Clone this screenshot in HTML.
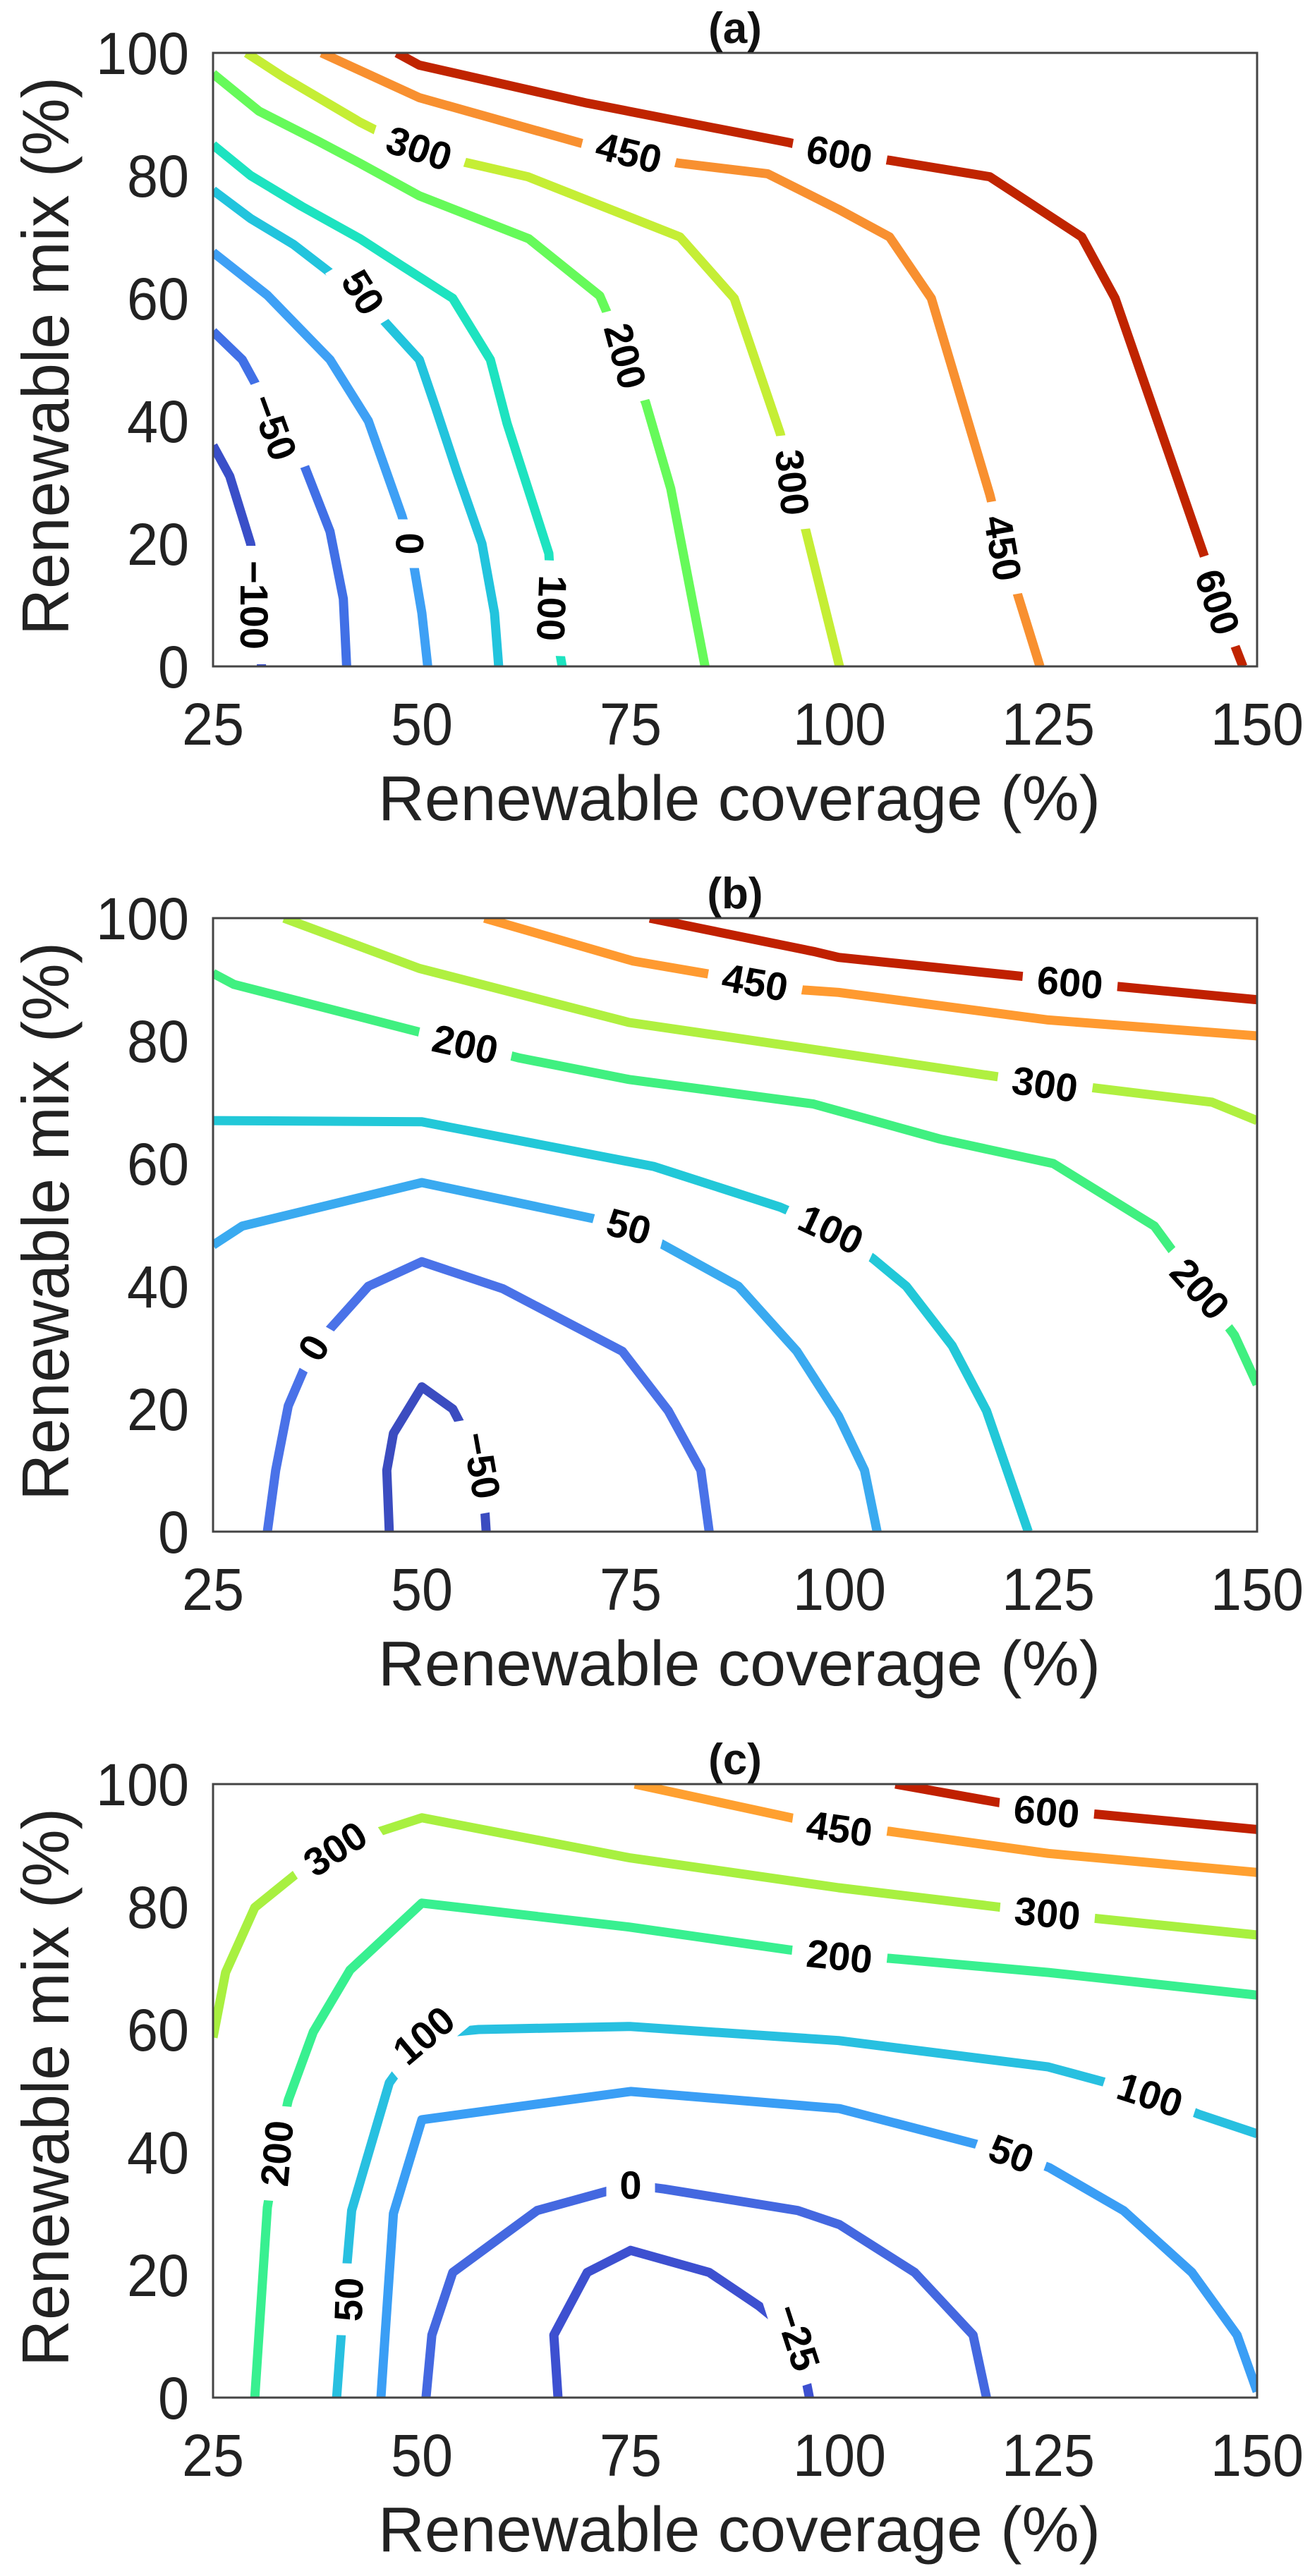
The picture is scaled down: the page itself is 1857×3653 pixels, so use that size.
<!DOCTYPE html>
<html><head><meta charset="utf-8">
<style>
html,body{margin:0;padding:0;background:#fff;}
svg{display:block;}
</style></head>
<body>
<svg id="chart" width="1857" height="3653" viewBox="0 0 1857 3653" xmlns="http://www.w3.org/2000/svg"></svg>
<script>
// ---------- data (coverage %, mix %) ----------
const xTicks = [25, 50, 75, 100, 125, 150];
const yTicks = [0, 20, 40, 60, 80, 100];
const panelTitles = ["(a)", "(b)", "(c)"];

// panel (a)
const levelsA = ["−100", "−50", "0", "50", "100", "200", "300", "450", "600"];
const colorsA = ["#3a4fc8", "#4170e6", "#3ea0f5", "#22c4dd", "#1de3c0", "#66fa5a", "#c5ee35", "#f89030", "#c02400"];
const linesA = [
  [[25,36],[27,31],[29.5,20],[30.5,10],[30.8,0]],
  [[25,54.6],[28.5,50],[30.5,45],[32.5,40],[36,32.5],[39,22],[40.6,11],[41,0]],
  [[25,67.5],[31.5,60.5],[39,50],[43.6,40],[47.6,24.6],[48.6,20],[50,8.7],[50.7,0]],
  [[25,77.6],[29.5,73],[34.6,68.8],[43,60],[49.7,50],[51.7,42],[54.2,31.7],[57.2,20],[58.7,8.7],[59.2,0]],
  [[25,85],[29.5,80],[35.6,75],[42.6,69.7],[47.6,65.3],[53.7,60],[58.2,50],[60.2,39.6],[62.7,29],[65.2,18.4],[65.6,9.5],[66.8,0]],
  [[25,96.6],[30.5,90.5],[37.6,85.6],[42.6,82],[49.7,76.7],[62.8,69.7],[71.3,60.4],[74.4,50.6],[76.8,43],[79.8,29],[83.9,0]],
  [[29,100],[33.5,96],[42.6,88.7],[49.7,83.8],[55.7,82],[62.7,79.8],[80.9,70],[87.4,60],[92.9,38],[94.4,30],[96,22],[100,0]],
  [[38,100],[49.7,92.7],[69.8,85],[74.8,83.4],[80.9,82],[91.4,80.3],[99.9,74.5],[106,70],[111,60],[118,28],[119.6,19.3],[124,0]],
  [[47,100],[49.7,98],[69.8,91.8],[93.9,85.4],[100,83.4],[106,82.5],[118,79.8],[129,70],[133,60],[143.8,17.5],[145.3,10.5],[148.3,0]]
];
const labelsA = [[30,10,90],[32.3,39,70],[48.6,20,90],[43,61,58],[65.6,9.5,92],[74.4,50.6,75],[49.7,84.5,18],[94.4,30,84],[74.8,83.8,14],[119.6,19.3,80],[100,83.6,10],[145.3,10.5,72]];
const labelLevelsA = [0,1,2,3,4,5,6,6,7,7,8,8];

// panel (b)
const levelsB = ["−50", "0", "50", "100", "200", "300", "450", "600"];
const colorsB = ["#3b4cc0", "#4a72e8", "#3aaaf0", "#22c8d8", "#40f080", "#b0f040", "#ff9a30", "#c02000"];
const linesB = [
  [[46.1,0],[45.8,10],[46.6,16],[50,23.6],[53.7,20],[57.2,10.8],[57.7,0]],
  [[31.5,0],[32.5,10],[34,20.5],[37,30],[43.6,40],[50,44],[59.7,39.6],[74,29.4],[79.5,19.7],[83.4,10],[84.4,0]],
  [[25,46.7],[28.5,49.8],[50,56.9],[74.8,49.8],[79.9,46],[87.9,40],[94.9,29.4],[99.9,18.8],[103,10],[104.5,0]],
  [[25,67],[50,66.8],[77.8,59.5],[92.9,52.9],[99,49.3],[104,44.5],[108,40],[113.5,30.3],[117.6,19.7],[122.6,0]],
  [[25,91],[27.5,89.2],[55.2,79.5],[61.7,77.2],[74.8,73.7],[96.9,69.7],[112,64],[125.6,60],[137.7,49.8],[143.2,39.6],[147.3,32],[150,24]],
  [[33.5,100],[49.7,91.8],[74.8,83],[99.9,78],[124.6,73],[130,72.4],[144.6,70],[150,67]],
  [[57.5,100],[75.3,93],[89.9,89.6],[95.6,88.3],[99.9,87.9],[125,83.4],[150,80.8]],
  [[77.3,100],[97.1,94.5],[99.9,93.6],[122,90.5],[127.6,89.6],[150,86.7]]
];
const labelsB = [[57.2,10.8,80],[37,30,-60],[74.8,49.8,15],[99,49.3,25],[55.2,79.5,12],[143.2,39.6,48],[124.6,73,8],[89.9,89.6,10],[127.6,89.6,5]];
const labelLevelsB = [0,1,2,3,4,4,5,6,7];

// panel (c)
const levelsC = ["−25", "0", "50", "100", "200", "300", "450", "600"];
const colorsC = ["#3d50d0", "#4468e0", "#3a9ef5", "#28c0e0", "#38f090", "#a8f040", "#ffa030", "#c02000"];
const linesC = [
  [[66.3,0],[65.8,10.2],[69.8,20.4],[75,24],[84.4,20.4],[90.4,14.9],[95,9.8],[96.4,0]],
  [[50.5,0],[51.2,10.2],[53.7,20.4],[63.8,30.5],[75,34.7],[79,34],[95,30.5],[100,28.2],[109,20.4],[116,10.2],[117.6,0]],
  [[45.1,0],[45.6,10.2],[46.6,30],[50,45.3],[75,49.9],[100,47.1],[120.6,39.8],[125.1,37.5],[134,30.5],[142.2,20.4],[147.6,10.2],[150,1]],
  [[39.8,0],[40.6,14.9],[41.6,30.5],[46.1,51.3],[50.2,59.1],[56.8,60],[74.9,60.5],[99.9,58.2],[125,53.9],[137.2,49.4],[143,46.2],[150,43]],
  [[30,0],[31.5,31],[32.6,39.8],[34,48.5],[37,59.6],[41.4,69.7],[50,80.6],[74.8,76.7],[93.9,73],[100,72],[106,71.6],[125,69.3],[150,65.6]],
  [[25,58.7],[26.5,69.3],[30,79.9],[35,85.4],[39.6,89.5],[45,92.3],[50,94.5],[74.8,88],[99.9,83.1],[124.9,79],[130,78.2],[150,75.4]],
  [[75.5,100],[100,92.8],[106,92.3],[125,88.7],[150,85.6]],
  [[106.7,100],[124.8,95.6],[130.7,95.1],[150,92.6]]
];
const labelsC = [[95,9.8,72],[75,34.7,0],[41.2,16,-88],[120.6,39.8,20],[50.2,59.1,-40],[137.2,49.4,18],[32.6,39.8,-85],[100,72,6],[39.6,89.5,-33],[124.9,79,5],[100,92.8,8],[124.8,95.6,5]];
const labelLevelsC = [0,1,2,2,3,3,4,4,5,5,6,7];

// ---------- layout ----------
const NS = "http://www.w3.org/2000/svg";
const svg = document.getElementById("chart");
const L = 302, R = 1782;
const panelTops = [75, 1302, 2530];
const panelH = 870;
const FONT = '"Liberation Sans Narrow","Liberation Sans",Arial,sans-serif';

function mk(tag, attrs, parent) {
  const e = document.createElementNS(NS, tag);
  for (const k in attrs) e.setAttribute(k, attrs[k]);
  (parent || svg).appendChild(e);
  return e;
}

const panels = [
  {levels: levelsA, colors: colorsA, lines: linesA, labels: labelsA, lab: labelLevelsA},
  {levels: levelsB, colors: colorsB, lines: linesB, labels: labelsB, lab: labelLevelsB},
  {levels: levelsC, colors: colorsC, lines: linesC, labels: labelsC, lab: labelLevelsC}
];

panels.forEach((p, pi) => {
  const T = panelTops[pi], B = T + panelH;
  const sx = v => L + (v - 25) / 125 * (R - L);
  const sy = v => B - v / 100 * (B - T);
  const g = mk("g", {});
  
  

  const clipId = "clip" + pi;
  const cp = mk("clipPath", {id: clipId}, g);
  mk("rect", {x: L, y: T, width: R - L, height: panelH}, cp);

  const lg = mk("g", {"clip-path": "url(#" + clipId + ")"}, g);
  p.lines.forEach((pts, i) => {
    const d = pts.map((q, j) => (j ? "L" : "M") + sx(q[0]).toFixed(1) + " " + sy(q[1]).toFixed(1)).join(" ");
    const path = mk("path", {d: d, fill: "none", stroke: p.colors[i], "stroke-width": 13, "stroke-linejoin": "round"}, lg);
    
    
  });

  p.labels.forEach((lb, k) => {
    const txt = p.levels[p.lab[k]];
    const cx = sx(lb[0]), cy = sy(lb[1]);
    const lgp = mk("g", {transform: "translate(" + cx.toFixed(1) + "," + cy.toFixed(1) + ") rotate(" + lb[2] + ")"}, lg);
    
    
    const w = txt.length * 33 + 36;
    mk("rect", {x: -w / 2, y: -32, width: w, height: 64, fill: "#fff"}, lgp);
    const t = mk("text", {x: 0, y: 20, "text-anchor": "middle", "font-family": FONT, "font-weight": "bold", "font-size": 56, fill: "#000"}, lgp);
    t.textContent = txt;
  });

  const frame = mk("rect", {x: L, y: T, width: R - L, height: panelH, fill: "none", stroke: "#444", "stroke-width": 3}, g);
  
  

  xTicks.forEach(v => {
    const t = mk("text", {x: sx(v), y: B + 111, "text-anchor": "middle", "font-family": FONT, "font-size": 84, fill: "#222",
      textLength: String(v).length * 44, lengthAdjust: "spacingAndGlyphs"}, g);
    t.textContent = v;
    
    
  });
  yTicks.forEach(v => {
    const t = mk("text", {x: 268, y: sy(v) + 30, "text-anchor": "end", "font-family": FONT, "font-size": 84, fill: "#222",
      textLength: String(v).length * 44, lengthAdjust: "spacingAndGlyphs"}, g);
    t.textContent = v;
    
    
  });

  const xt = mk("text", {x: 1048, y: B + 218, "text-anchor": "middle", "font-family": FONT, "font-size": 90, fill: "#222",
    textLength: 1024, lengthAdjust: "spacingAndGlyphs"}, g);
  xt.textContent = "Renewable coverage (%)";
  
  

  const yt = mk("text", {x: 0, y: 0, transform: "translate(97," + (T + 430) + ") rotate(-90)", "text-anchor": "middle", "font-family": FONT, "font-size": 94, fill: "#222",
    textLength: 792, lengthAdjust: "spacingAndGlyphs"}, g);
  yt.textContent = "Renewable mix (%)";
  
  

  const tt = mk("text", {x: 1042, y: T - 14, "text-anchor": "middle", "font-family": FONT, "font-weight": "bold", "font-size": 62, fill: "#111"}, g);
  tt.textContent = panelTitles[pi];
  
  
});
</script>
</body></html>
